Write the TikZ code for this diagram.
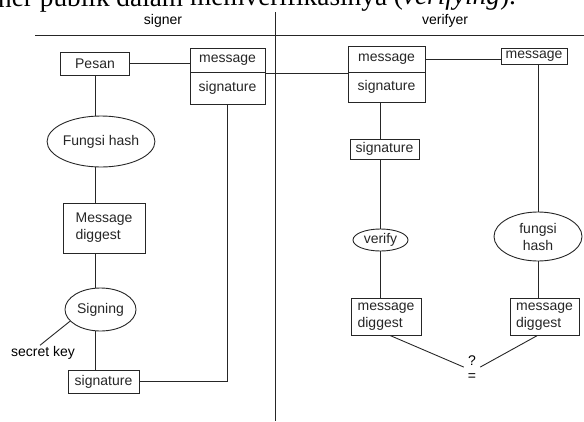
\documentclass[tikz,border=0pt]{standalone}
\usepackage{fontspec}
\setmainfont{Liberation Sans}
\newfontfamily\pageserif{Liberation Serif}
\usetikzlibrary{shapes.geometric}
\tikzstyle{box}=[draw,rectangle,inner sep=0pt,align=left,line width=0.9pt,black!85]
\tikzstyle{oval}=[draw,ellipse,inner sep=0pt,align=center,line width=0.9pt,black!85]
\tikzstyle{wire}=[line width=0.9pt,black!85]
\tikzstyle{lbl}=[inner sep=1pt]

\begin{document}
\begin{tikzpicture}[x=1pt,y=-1pt,font=\fontsize{14}{17}\selectfont]
\useasboundingbox (0,0) rectangle (584,421);
\clip (0,0) rectangle (584,421);
% cut-off line of the page above the figure
\node[anchor=base west,inner sep=0pt,rotate=0.3,font=\pageserif\fontsize{27.3}{30}\selectfont] (caption) at (-2,7) {ner publik dalam memverifikasinya (\textit{verifying}).};
% header
\node (signer) at (163,21) {signer};
\node (verifyer) at (445,21) {verifyer};
\draw[wire] (275,12) -- (275,421);
\draw[wire] (35,35) -- (584,35);
% signer side
\node[box,minimum width=69,minimum height=23] (pesan) at (95,63.5) {Pesan};
\node[box,minimum width=75,minimum height=24.5] (lmsg) at (227.5,60.25) {message};
\node[box,minimum width=75,minimum height=31.5] (lsig) at (227.5,88.25) {signature};
\node[oval,minimum width=96,minimum height=51] (hash1) at (101,141.5) {Fungsi hash};
\node[box,minimum width=82,minimum height=50] (dig1) at (104,228) {Message\\diggest};
\node[oval,minimum width=71,minimum height=43] (signing) at (100.5,309.5) {Signing};
\node[lbl] (key) at (43,353) {secret key};
\node[box,minimum width=71,minimum height=23] (sig1) at (103.5,381.5) {signature};
\draw[wire] (pesan.east) -- (pesan.east -| lmsg.west);
\draw[wire] (pesan.south) -- (hash1.north -| pesan.south);
\draw[wire] (hash1.south -| pesan.south) -- (dig1.north -| pesan.south);
\draw[wire] (dig1.south -| pesan.south) -- (signing.north -| pesan.south);
\draw[wire] (signing.south -| pesan.south) -- (sig1.north -| pesan.south);
\draw[wire] (signing.201) -- ([xshift=-3pt]key.north);
\draw[wire] (sig1.east) -| (lsig.south);
% verifyer side
\node[box,minimum width=77,minimum height=26.5] (rmsg) at (386.5,59.25) {message};
\node[box,minimum width=77,minimum height=29.5] (rsig) at (386.5,87.25) {signature};
\node[box,minimum width=66,minimum height=16] (rmsg2) at (534,56) {message};
\node[box,minimum width=69,minimum height=20] (sig2) at (384.5,149) {signature};
\node[oval,minimum width=55,minimum height=22] (verify) at (380.5,240) {verify};
\node[box,minimum width=70,minimum height=37] (dig2) at (386,316.5) {message\\diggest};
\node[oval,minimum width=88,minimum height=49] (hash2) at (538,236.5) {fungsi\\hash};
\node[box,minimum width=69,minimum height=37] (dig3) at (544.5,316.5) {message\\diggest};
\node[lbl,minimum width=16] (ask) at (472,361) {?};
\node[lbl] (same) at (472,377) {=};
\draw[wire] (lmsg.south east) -- (rmsg.south west);
\draw[wire] (rmsg.east) -- (rmsg.east -| rmsg2.west);
\draw[wire] (verify.north |- rsig.south) -- (verify.north |- sig2.north);
\draw[wire] (verify.north |- sig2.south) -- (verify.north);
\draw[wire] (verify.south) -- (verify.south |- dig2.north);
\draw[wire] (hash2.north |- rmsg2.south) -- (hash2.north);
\draw[wire] (hash2.south) -- (hash2.south |- dig3.north);
\draw[wire] ([xshift=4pt]dig2.south) -- (ask.south west);
\draw[wire] ([xshift=-7pt]dig3.south) -- (ask.south east);
\end{tikzpicture}
\end{document}
